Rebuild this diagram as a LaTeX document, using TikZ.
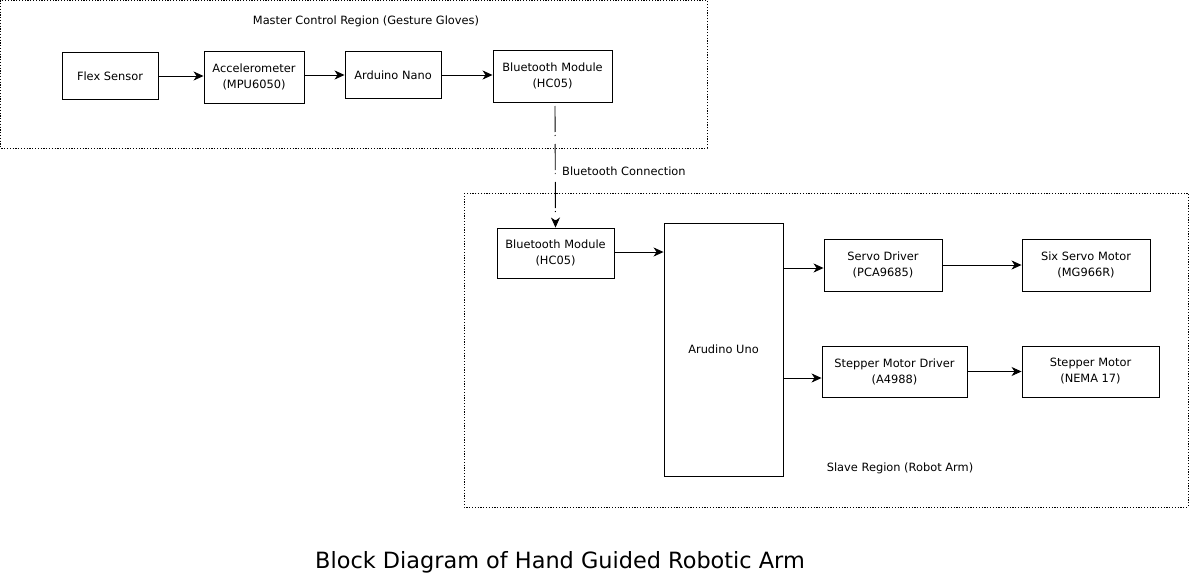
\documentclass[tikz,border=0pt]{standalone}
\usepackage{fontspec}
\setmainfont{DejaVu Sans}
\usetikzlibrary{arrows.meta}
\begin{document}
\begin{tikzpicture}[x=1pt,y=-1pt,
  blk/.style={draw,line width=0.9pt,minimum height=0pt,inner sep=0pt,align=center,font=\fontsize{11.4}{16}\selectfont},
  region/.style={draw,line width=0.8pt,dash pattern=on 1.2pt off 1.6pt},
  lbl/.style={font=\fontsize{11.4}{14}\selectfont,inner sep=0pt},
  arr/.style={line width=0.9pt,-{Stealth[length=10pt,width=9pt,inset=3pt]}}]
\useasboundingbox (0,0) rectangle (1189,586);
\fill[white] (0,0) rectangle (1189,586);
% regions
\draw[region] (0.5,0.5) rectangle (707,148);
\draw[region] (464,193) rectangle (1188,507);
\node[lbl] (mlab) at (366,21) {Master Control Region (Gesture Gloves)};
\node[lbl] (slab) at (900,468) {Slave Region (Robot Arm)};
% master blocks
\node[blk,minimum width=96pt,minimum height=47pt] (flex) at (110,76) {Flex Sensor};
\node[blk,minimum width=100pt,minimum height=52pt] (acc) at (254,77) {Accelerometer\\(MPU6050)};
\node[blk,minimum width=96pt,minimum height=47pt] (nano) at (393,75) {Arduino Nano};
\node[blk,minimum width=119pt,minimum height=52pt] (btm) at (552.5,76) {Bluetooth Module\\(HC05)};
% slave blocks
\node[blk,minimum width=117pt,minimum height=50pt] (bts) at (555.5,253) {Bluetooth Module\\(HC05)};
\node[blk,minimum width=119pt,minimum height=253pt] (uno) at (723.5,349.5) {Arudino Uno};
\node[blk,minimum width=118pt,minimum height=52pt] (servo) at (883,265) {Servo Driver\\(PCA9685)};
\node[blk,minimum width=128pt,minimum height=52pt] (six) at (1086,265) {Six Servo Motor\\(MG966R)};
\node[blk,minimum width=145pt,minimum height=51pt] (sdrv) at (894.5,371.5) {Stepper Motor Driver\\(A4988)};
\node[blk,minimum width=137pt,minimum height=51pt] (step) at (1090.5,371.5) {Stepper Motor\\(NEMA 17)};
% connectors
\draw[arr] (flex.east) -- (acc.west |- flex.east);
\draw[arr] (acc.east |- nano.west) -- (nano.west);
\draw[arr] (nano.east) -- (btm.west |- nano.east);
\coordinate (bttop) at (555,106);
\draw[line width=0.9pt,dash pattern=on 26pt off 3pt on 1pt off 8pt,-{Stealth[length=10pt,width=9pt,inset=3pt]}] (bttop) -- (bts.north);
\node[lbl,anchor=west] (btc) at (562,171) {Bluetooth Connection};
\draw[arr] (bts.east |- 0,252) -- (uno.west |- 0,252);
\draw[arr] (uno.east |- 0,268) -- (servo.west |- 0,268);
\draw[arr] (uno.east |- 0,378) -- (sdrv.west |- 0,378);
\draw[arr] (servo.east) -- (six.west);
\draw[arr] (sdrv.east) -- (step.west);
% title
\node[inner sep=0pt,font=\fontsize{22.4}{27}\selectfont] (title) at (560,562) {Block Diagram of Hand Guided Robotic Arm};
\end{tikzpicture}
\end{document}
